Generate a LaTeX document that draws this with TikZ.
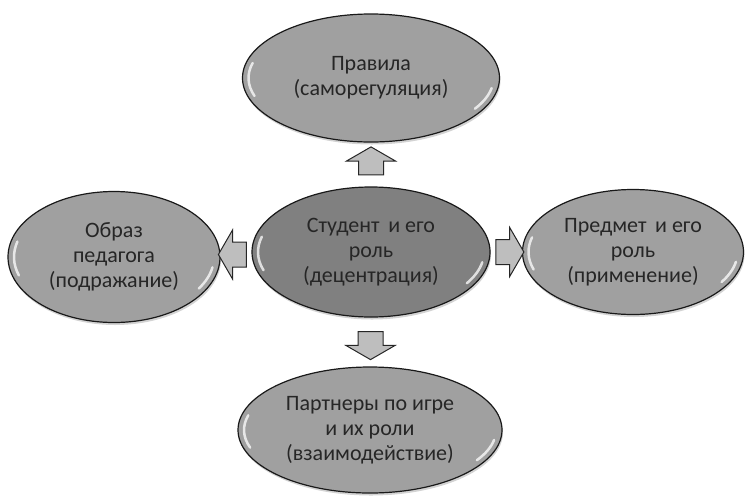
\documentclass[tikz,border=0pt]{standalone}
\usepackage{fontspec}
\setmainfont{Carlito}
\usepackage{xcolor}
\definecolor{grisOsc}{RGB}{128,128,128}
\definecolor{grisCl}{RGB}{160,160,160}
\definecolor{grisFl}{RGB}{190,190,190}
\usepackage{tikz}
\usetikzlibrary{shapes.geometric, shapes.arrows, calc, shadows}

\begin{document}
\begin{tikzpicture}[
  x=1pt, y=-1pt,
  brillo/.style={white, line width=2.5pt, opacity=0.75, line cap=round},
  elipse/.style={ellipse, draw=black!90, line width=1.2pt, fill=grisCl,
                 inner sep=0pt, align=center, font=\fontsize{22}{25}\selectfont,
                 text=black!85,
                 drop shadow={shadow xshift=1pt, shadow yshift=-2.5pt, opacity=0.35},
                 path picture={
                   \draw[brillo] let \p1=(path picture bounding box.center),
                     \p2=(path picture bounding box.north east),
                     \n1={\x2-\x1-6pt}, \n2={\y2-\y1-6pt} in
                     ({\x1+\n1*cos(198)},{\y1+\n2*sin(198)})
                       arc[start angle=198, end angle=165, x radius=\n1, y radius=\n2]
                     ({\x1+\n1*cos(-32)},{\y1+\n2*sin(-32)})
                       arc[start angle=-32, end angle=-10, x radius=\n1, y radius=\n2];
                 }},
  central/.style={elipse, fill=grisOsc},
  flecha/.style={single arrow, draw=black!85, fill=grisFl, line width=1pt,
                 inner xsep=0pt, inner ysep=12pt, minimum height=28pt,
                 single arrow head extend=12pt, single arrow tip angle=120}
]
\useasboundingbox (0,0) rectangle (746,496);

% Centro
\node[central, minimum width=238pt, minimum height=130pt] (student) at (371,252)
  {Студент\, и его\\роль\\(децентрация)};

% Alrededor
\node[elipse, minimum width=257pt, minimum height=128pt] (pravila) at (371,78)
  {Правила\\(саморегуляция)};
\node[elipse, minimum width=212pt, minimum height=131pt] (obraz) at (114,257)
  {Образ\\педагога\\(подражание)};
\node[elipse, minimum width=221pt, minimum height=125pt] (predmet) at (633,252)
  {Предмет\, и его\\роль\\(применение)};
\node[elipse, minimum width=264pt, minimum height=126pt] (partnery) at (370,430)
  {Партнеры по игре\\и их роли\\(взаимодействие)};

% Flechas
\node[flecha, rotate=90]  (fArriba) at ($(student.north)!0.5!(pravila.south)$) {};
\node[flecha, rotate=180] (fIzq)    at ($(student.west)!0.5!(obraz.east)$) {};
\node[flecha]             (fDer)    at ($(student.east)!0.5!(predmet.west)$) {};
\node[flecha, rotate=-90] (fAbajo)  at ($(student.south)!0.5!(partnery.north)$) {};

\end{tikzpicture}
\end{document}
